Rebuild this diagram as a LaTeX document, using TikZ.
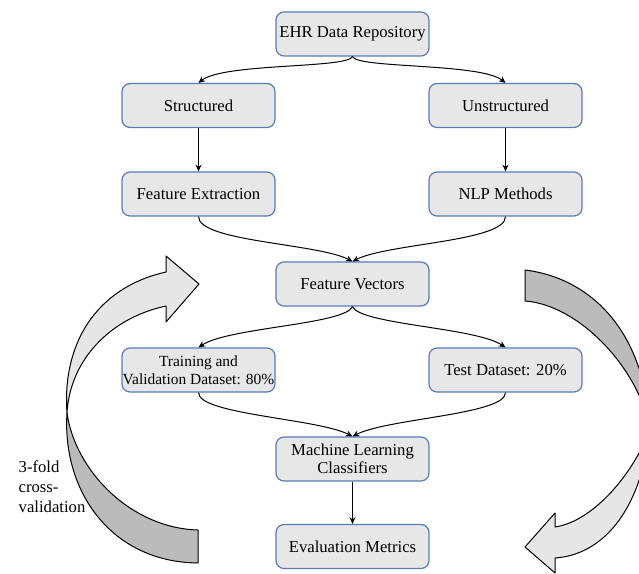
\documentclass[tikz,border=0pt]{standalone}
\usepackage{fontspec}
\setmainfont{Liberation Serif}
\usetikzlibrary{arrows.meta}
\usepackage{xcolor}
\definecolor{boxfill}{HTML}{E7E7E7}
\definecolor{boxline}{HTML}{5B7BB5}
\definecolor{loopfront}{HTML}{E6E6E6}
\definecolor{loopback}{HTML}{BBBBBB}

\begin{document}
\begin{tikzpicture}[x=0.75pt, y=-0.75pt,
  stage/.style={draw=boxline, fill=boxfill, line width=0.9pt, rounded corners=6pt,
               minimum width=114.75pt, minimum height=33pt, inner sep=0pt,
               align=center, font=\fontsize{12.5}{13.5}\selectfont},
  flow/.style={-{Stealth[length=5pt,width=4.5pt]}, line width=0.75pt},
  loop/.style={draw=black, line width=0.75pt, line join=round},
]
  \useasboundingbox (0,0) rectangle (639,574);

  % cross-validation loop, left side
  \fill[loop, fill=loopback] (67,413) .. controls (62,490) and (110,562) .. (198,563)
    -- (198,530) .. controls (130,528) and (75,470) .. (67,413) -- cycle;
  \fill[loop, fill=loopfront] (199,284) -- (166,256) -- (166,272)
    .. controls (95,288) and (62,345) .. (67,413)
    .. controls (70,360) and (110,318) .. (166,306) -- (166,322) -- cycle;

  % right side, cut by the page edge
  \begin{scope}
    \clip (0,0) rectangle (639,574);
    \fill[loop, fill=loopback] (525,270) .. controls (590,278) and (645,330) .. (650,430)
      .. controls (640,370) and (580,305) .. (525,301) -- cycle;
    \fill[loop, fill=loopfront] (650,430) .. controls (630,480) and (590,522) .. (555,527)
      -- (555,513) -- (525,547) -- (555,573) -- (555,558)
      .. controls (600,555) and (640,515) .. (650,430) -- cycle;
  \end{scope}

  \node[stage] (ehr) at (352.5, 34) {EHR Data Repository};

  \node[stage] (str) at (198.5, 105.5) {Structured};
  \node[stage] (unstr) at (505.5, 105.5) {Unstructured};

  \node[stage] (fe) at (198.5, 194) {Feature Extraction};
  \node[stage] (nlp) at (505.5, 194) {NLP Methods};

  \node[stage] (fv) at (352.5, 284) {Feature Vectors};

  \node[stage, font=\fontsize{11.6}{13.5}\selectfont] (train) at (198.5, 370)
    {Training and\\Validation Dataset: 80\%};
  \node[stage] (test) at (505.5, 370) {Test Dataset: 20\%};

  \node[stage] (ml) at (352.5, 459) {Machine Learning\\Classifiers};
  \node[stage] (eval) at (352.5, 546.5) {Evaluation Metrics};

  \node[font=\fontsize{12.5}{15}\selectfont, align=left, anchor=west] (cvtext)
    at (14, 487) {3-fold\\cross-\\validation};

  \draw[flow] (ehr.south) .. controls +(-5,12) and +(25,-20) .. (str.north);
  \draw[flow] (ehr.south) .. controls +(5,12) and +(-25,-20) .. (unstr.north);
  \draw[flow] (str) -- (fe);
  \draw[flow] (unstr) -- (nlp);
  \draw[flow] (fe.south) .. controls +(0,25) and +(-35,-18) .. (fv.north);
  \draw[flow] (nlp.south) .. controls +(0,25) and +(35,-18) .. (fv.north);
  \draw[flow] (fv.south) .. controls +(-8,18) and +(30,-20) .. (train.north);
  \draw[flow] (fv.south) .. controls +(8,18) and +(-30,-20) .. (test.north);
  \draw[flow] (train.south) .. controls +(0,22) and +(-35,-18) .. (ml.north);
  \draw[flow] (test.south) .. controls +(0,22) and +(35,-18) .. (ml.north);
  \draw[flow] (ml) -- (eval);
\end{tikzpicture}
\end{document}
